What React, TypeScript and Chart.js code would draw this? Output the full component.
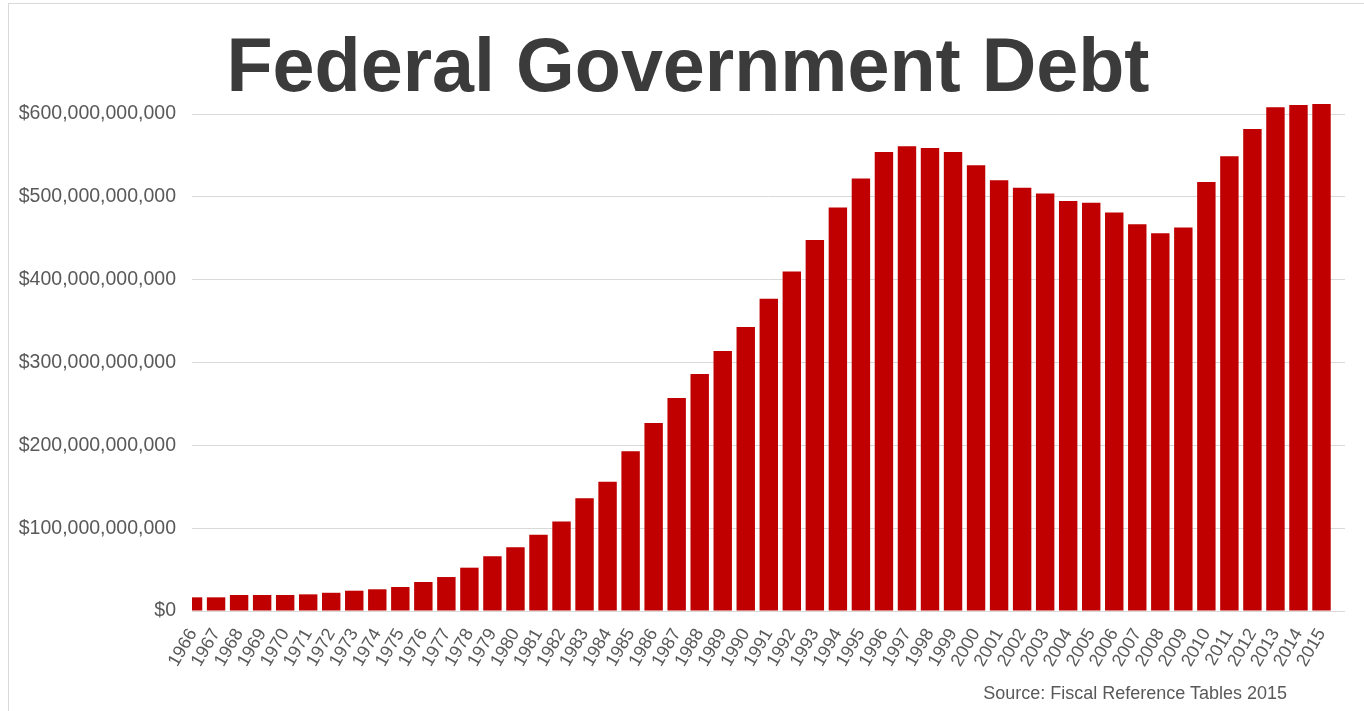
import React, { useEffect, useRef } from "react";
import { Chart, registerables } from "chart.js";

Chart.register(...registerables);

const years: string[] = [
  "1966", "1967", "1968", "1969", "1970", "1971", "1972", "1973", "1974", "1975",
  "1976", "1977", "1978", "1979", "1980", "1981", "1982", "1983", "1984", "1985",
  "1986", "1987", "1988", "1989", "1990", "1991", "1992", "1993", "1994", "1995",
  "1996", "1997", "1998", "1999", "2000", "2001", "2002", "2003", "2004", "2005",
  "2006", "2007", "2008", "2009", "2010", "2011", "2012", "2013", "2014", "2015",
];

// Federal government debt, billions of dollars
const debtBillions: number[] = [
  16.5, 16.5, 19.3, 19.3, 19.3, 20.1, 22, 24.5, 26.2, 29,
  35, 41, 52.3, 66, 77, 92, 108, 136, 156, 193,
  227, 257, 286, 314, 343, 377, 410, 448, 487, 522,
  554, 561, 559, 554, 538, 520, 511, 504, 495, 493,
  481, 467, 456, 463, 518, 549, 582, 608, 611, 612,
];

const yTickStepBillions = 100;
const yMaxBillions = 600;

const TITLE = "Federal Government Debt";
const SOURCE = "Source: Fiscal Reference Tables 2015";

const FONT = "'Liberation Sans', Arial, Helvetica, sans-serif";
const LABEL_COLOR = "#595959";
const TITLE_COLOR = "#3b3b3b";
const BAR_COLOR = "#c00000";
const GRID_COLOR = "#d9d9d9";

export default function App() {
  const canvasRef = useRef<HTMLCanvasElement | null>(null);

  useEffect(() => {
    if (!canvasRef.current) return;
    const chart = new Chart(canvasRef.current, {
      type: "bar",
      data: {
        datasets: [
          {
            data: years.map((y, i) => ({ x: Number(y), y: debtBillions[i] * 1e9 })),
            backgroundColor: BAR_COLOR,
            borderWidth: 0,
            categoryPercentage: 1,
            barPercentage: 0.8,
            clip: { left: 0, top: false, right: false, bottom: 0 } as any,
          } as any,
        ],
      },
      options: {
        animation: false,
        responsive: false,
        maintainAspectRatio: false,
        devicePixelRatio: 1,
        layout: { padding: { left: 0, right: 19, top: 114, bottom: 0 } },
        plugins: {
          legend: { display: false },
          tooltip: { enabled: false },
          title: { display: false },
        },
        scales: {
          x: {
            type: "linear",
            offset: false,
            min: Number(years[0]) - 0.045,
            max: Number(years[years.length - 1]) + 1.02,
            grid: { display: false, drawTicks: false },
            border: { display: false },
            afterBuildTicks: (scale: any) => {
              scale.ticks = years.map((y) => ({ value: Number(y) }));
            },
            afterFit: (scale: any) => {
              scale.height = 100;
            },
            ticks: {
              autoSkip: false,
              minRotation: 60,
              maxRotation: 60,
              padding: 14,
              color: LABEL_COLOR,
              font: { family: FONT, size: 18 },
              callback: (v: any) => String(v),
            },
          },
          y: {
            min: 0,
            max: yMaxBillions * 1e9,
            grid: { color: GRID_COLOR, drawTicks: false, lineWidth: 1 },
            border: { display: false },
            afterFit: (scale: any) => {
              scale.width = 192;
            },
            ticks: {
              stepSize: yTickStepBillions * 1e9,
              padding: 16,
              color: LABEL_COLOR,
              font: { family: FONT, size: 19.5 },
              callback: (v: any) => "$" + Number(v).toLocaleString("en-US"),
            },
          },
        },
      } as any,
    });
    return () => chart.destroy();
  }, []);

  return (
    <div
      style={{
        position: "absolute",
        left: 0,
        top: 0,
        width: 1364,
        height: 711,
        background: "#ffffff",
        overflow: "hidden",
      }}
    >
      <canvas ref={canvasRef} width={1364} height={711} style={{ display: "block" }} />
      <div
        style={{
          position: "absolute",
          left: 0,
          top: 27.5,
          width: 1376,
          textAlign: "center",
          fontFamily: FONT,
          fontWeight: "bold",
          fontSize: 75.5,
          lineHeight: "75px",
          color: TITLE_COLOR,
          whiteSpace: "nowrap",
        }}
      >
        {TITLE}
      </div>
      <div
        style={{
          position: "absolute",
          left: 8,
          top: 3,
          right: 0,
          bottom: 0,
          borderLeft: "1px solid #d9d9d9",
          borderTop: "1px solid #d9d9d9",
          pointerEvents: "none",
        }}
      />
      <div
        style={{
          position: "absolute",
          top: 684,
          right: 77,
          fontFamily: FONT,
          fontSize: 18,
          lineHeight: "18px",
          color: LABEL_COLOR,
          whiteSpace: "nowrap",
        }}
      >
        {SOURCE}
      </div>
    </div>
  );
}
